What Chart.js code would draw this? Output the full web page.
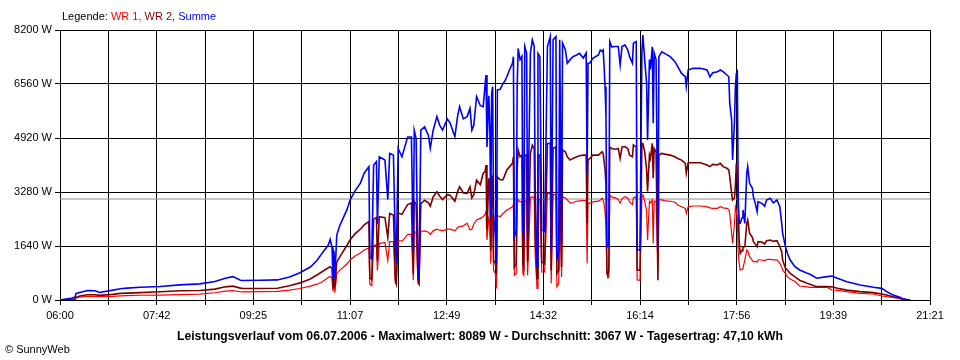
<!DOCTYPE html>
<html>
<head>
<meta charset="utf-8">
<script src="https://cdn.jsdelivr.net/npm/chart.js@4.4.1/dist/chart.umd.min.js"></script>
<style>
  html, body { margin: 0; padding: 0; background: #fff; }
  #wrap { position: relative; width: 960px; height: 360px; overflow: hidden; font-family: "Liberation Sans", Arial, sans-serif; }
  #c { position: absolute; left: 0; top: 0; }
  .txt { position: absolute; font-size: 11px; white-space: nowrap; line-height: 12px; }
  #legend { left: 62px; top: 10px; color: #000; }
  #title { left: 0; width: 960px; text-align: center; top: 330px; font-weight: bold; font-size: 12.2px; color: #000; }
  #copy { left: 5px; top: 343px; color: #000; }
</style>
</head>
<body>
<div id="wrap">
  <canvas id="c" width="960" height="360"></canvas>
  <div id="legend" class="txt">Legende: <span style="color:#ff0000">WR 1,</span> <span style="color:#800000">WR 2,</span> <span style="color:#0000ff">Summe</span></div>
  <div id="title" class="txt">Leistungsverlauf vom 06.07.2006 - Maximalwert: 8089 W - Durchschnitt: 3067 W - Tagesertrag: 47,10 kWh</div>
  <div id="copy" class="txt">© SunnyWeb</div>
</div>
<script>
// ---- data ----
const times = ["06:00","06:06","06:13","06:16","06:17","06:21","06:29","06:37","06:42","06:56","07:04","07:11","07:25","07:46","08:07","08:28","08:44","08:55","09:03","09:11","09:14","09:32","09:50","10:03","10:14","10:25","10:32","10:37","10:44","10:46","10:48","10:49","10:50","10:51","10:53","10:56","11:04","11:07","11:12","11:18","11:22","11:27","11:28","11:30","11:32","11:35","11:36","11:38","11:44","11:47","11:49","11:53","11:55","11:56","11:58","12:02","12:05","12:08","12:12","12:14","12:15","12:17","12:19","12:20","12:22","12:26","12:30","12:32","12:35","12:39","12:42","12:45","12:50","12:53","12:58","13:01","13:03","13:07","13:11","13:14","13:16","13:18","13:21","13:25","13:28","13:30","13:31","13:32","13:34","13:35","13:36","13:37","13:38","13:39","13:41","13:42","13:43","13:46","13:49","13:51","13:53","13:56","13:59","14:00","14:01","14:03","14:04","14:05","14:07","14:09","14:10","14:11","14:12","14:14","14:15","14:18","14:20","14:22","14:23","14:25","14:26","14:28","14:30","14:33","14:36","14:39","14:40","14:42","14:45","14:46","14:48","14:49","14:51","14:52","14:55","14:57","15:00","15:03","15:07","15:10","15:14","15:17","15:18","15:19","15:21","15:24","15:30","15:32","15:34","15:35","15:36","15:37","15:38","15:39","15:40","15:41","15:42","15:44","15:48","15:51","15:53","15:55","15:58","16:01","16:03","16:06","16:07","16:10","16:11","16:14","16:16","16:17","16:19","16:21","16:22","16:24","16:25","16:27","16:28","16:29","16:31","16:33","16:34","16:37","16:40","16:46","16:51","16:54","16:58","17:02","17:03","17:05","17:10","17:18","17:25","17:28","17:31","17:36","17:39","17:42","17:46","17:48","17:49","17:51","17:52","17:54","17:55","17:56","17:57","17:58","17:59","18:00","18:02","18:03","18:05","18:07","18:08","18:10","18:13","18:14","18:16","18:18","18:19","18:23","18:26","18:28","18:32","18:35","18:39","18:42","18:44","18:45","18:48","18:50","18:53","18:58","19:03","19:11","19:14","19:21","19:32","19:37","19:43","19:53","20:07","20:21","20:30","20:35","20:42","20:49","20:52","20:58","21:00"];

const summe = [0,30,60,90,200,230,290,280,230,300,340,360,385,410,460,490,560,660,710,600,590,600,610,700,830,1000,1200,1400,1670,1840,1600,620,1500,700,1970,2250,2760,3030,3300,3550,3850,4050,1300,1250,4100,4200,2300,4350,4250,3050,4450,4400,1700,1100,4600,4350,4650,4950,4950,1500,5150,4900,800,700,5160,5260,5000,4610,5150,5570,5300,5160,5500,5370,4960,5600,5870,5500,5570,5820,5160,5300,6180,5900,5870,6530,6830,4650,6200,5300,2530,6280,6480,2600,1900,1100,6380,6400,6580,6650,6780,7000,7190,7390,1920,2100,6500,7640,7300,7400,2120,2000,7700,7500,2020,7500,7900,7700,3500,1000,7490,7390,2130,2080,7690,8000,1500,7900,8000,1200,1500,7900,1720,7800,7600,7190,7300,7390,7440,7490,7350,7500,3850,7190,7200,7340,7440,7590,7550,7590,7090,6480,5570,1620,1620,1700,7850,7690,7700,7700,7140,7700,7750,7600,7390,7190,7800,7850,1520,1520,7500,8050,7290,6580,4860,7300,7000,7690,5370,7500,7300,1620,7390,7540,7490,7390,7240,7090,6880,6780,6480,6985,7036,7036,6985,6780,6900,6935,6985,6935,6833,6780,5970,5470,4250,5400,6480,6880,6935,3037,2330,2330,2500,2733,2330,3847,4049,3543,3391,3138,2936,2682,2986,2936,2850,3037,3088,2950,3037,2834,2328,2025,1619,1417,1215,1012,911,810,780,660,709,729,658,557,455,385,354,253,152,81,40,10,0];

const wr2 = [0,0,20,30,80,120,160,160,140,170,200,210,225,250,280,290,330,400,420,360,350,350,355,430,520,640,760,850,980,1010,950,340,800,400,1150,1300,1670,1820,2000,2150,2280,2380,680,620,2450,2500,1200,2530,2500,1900,2630,2580,600,500,2640,2600,2750,2900,2950,800,3000,2900,600,520,2930,3030,2950,2850,3130,3290,3150,3050,3200,3180,3000,3300,3440,3250,3240,3440,3100,3200,3640,3500,3850,3900,4100,2130,3700,3500,1500,3700,3750,1200,1110,750,3740,3650,3650,3800,3950,4050,4150,4350,1000,1100,4000,4560,4350,4400,1100,1000,4400,4400,1150,4450,4700,4600,2000,650,4400,4400,1150,1100,4750,4760,900,4600,4650,800,900,4550,1000,4550,4500,4350,4250,4300,4350,4380,4400,4400,2330,4250,4300,4400,4400,4450,4500,4450,4200,3950,3500,820,760,900,4650,4600,4580,4600,4300,4650,4660,4600,4400,4350,4710,4650,910,900,4760,4750,4500,3950,3300,4400,4300,4760,3700,4600,4500,600,4400,4450,4430,4400,4350,4300,4250,4150,3850,4170,4170,4170,4100,4050,4120,4100,4150,4050,4000,3950,3745,3240,3037,3100,3500,4151,3800,2733,1800,1417,1500,1600,1619,2328,2430,2025,1900,1771,1700,1619,1771,1760,1700,1800,1822,1780,1800,1619,1467,1215,961,911,810,700,600,506,480,405,405,400,354,300,253,223,182,150,101,60,30,0,0];

const wr1 = [0,0,10,30,60,90,110,110,100,110,125,130,145,150,165,180,220,270,285,250,245,255,260,300,350,420,480,540,680,720,650,260,600,220,800,900,1100,1215,1330,1430,1520,1580,480,440,1650,1680,900,1720,1740,1200,1770,1770,520,480,1800,1790,1880,1990,2000,600,2080,2050,500,470,2080,2100,2060,1990,2100,2150,2120,2100,2150,2150,2100,2200,2230,2250,2330,2130,2150,2300,2430,2480,2530,2600,2680,1820,2500,2400,1100,2500,2550,900,800,350,2560,2530,2630,2680,2730,2780,2830,2900,750,800,2900,3040,2980,3000,800,750,3000,3000,750,3100,3140,3100,1400,350,3050,3050,850,850,3240,3240,500,3200,3200,400,500,3150,700,3140,3100,3040,2940,2960,3000,3010,3020,3020,1110,2940,2940,2980,3000,3040,3090,3040,2900,2700,2200,820,670,700,3190,3130,3100,3050,2940,3080,3140,3100,2980,2900,3100,3140,610,600,3190,3190,3000,2700,1820,3000,2950,3040,1720,3000,3000,1000,3040,3040,3020,3000,2970,2885,2834,2784,2630,2830,2855,2855,2830,2800,2784,2784,2834,2800,2784,2750,2632,2025,1721,2300,2834,2700,2500,1417,1100,911,940,961,1215,1518,1500,1316,1200,1164,1164,1150,1215,1215,1190,1230,1235,1220,1220,1113,1000,911,800,709,640,560,425,400,385,385,385,304,290,253,203,182,121,101,81,40,20,0,0];

const average = 3067;
const yTickValues = [0, 1640, 3280, 4920, 6560, 8200];
const xTickLabels = ["06:00","07:42","09:25","11:07","12:49","14:32","16:14","17:56","19:39","21:21"];
const seriesNames = ["WR 1", "WR 2", "Summe"];

// ---- helpers ----
function toMin(s) { const p = s.split(":"); return (+p[0]) * 60 + (+p[1]); }
const tMin = toMin(xTickLabels[0]);
const tMax = toMin(xTickLabels[xTickLabels.length - 1]);
function pts(arr) { return times.map((t, i) => ({ x: toMin(t), y: arr[i] })); }

const FONT = { family: '"Liberation Sans", Arial, sans-serif', size: 11 };

new Chart(document.getElementById('c'), {
  type: 'line',
  data: {
    datasets: [
      { label: seriesNames[2], data: pts(summe), borderColor: '#0000ff', borderWidth: 1.6, pointRadius: 0, tension: 0, order: 0 },
      { label: seriesNames[1], data: pts(wr2), borderColor: '#800000', borderWidth: 1.6, pointRadius: 0, tension: 0, order: 1 },
      { label: seriesNames[0], data: pts(wr1), borderColor: '#ff0000', borderWidth: 1.2, pointRadius: 0, tension: 0, order: 2 },
      { label: 'Durchschnitt', data: [{ x: tMin, y: average }, { x: tMax, y: average }], borderColor: '#8c8c8c', borderWidth: 1, pointRadius: 0, order: 5 }
    ]
  },
  options: {
    responsive: false,
    animation: false,
    events: [],
    layout: { padding: { left: 0, right: 30, top: 30, bottom: 0 } },
    plugins: { legend: { display: false }, title: { display: false }, tooltip: { enabled: false } },
    scales: {
      x: {
        type: 'linear', min: tMin, max: tMax,
        afterBuildTicks: (s) => {
          const n = (xTickLabels.length - 1) * 2;
          const arr = [];
          for (let i = 0; i <= n; i++) arr.push({ value: tMin + (tMax - tMin) * i / n });
          s.ticks = arr;
        },
        afterFit: (s) => { s.height = 60; },
        ticks: {
          autoSkip: false, maxRotation: 0, minRotation: 0, padding: 4, color: '#000', font: FONT,
          callback: (v, i) => (i % 2 === 0 ? xTickLabels[i / 2] : '')
        },
        grid: { color: '#000', lineWidth: 1, tickLength: 5, drawTicks: true },
        border: { display: true, color: '#000', width: 1 }
      },
      y: {
        type: 'linear', min: 0, max: 8200,
        afterBuildTicks: (s) => { s.ticks = yTickValues.map(v => ({ value: v })); },
        afterFit: (s) => { s.width = 60; },
        ticks: { color: '#000', font: FONT, padding: 3, callback: (v) => v + ' W' },
        grid: { color: '#000', lineWidth: 1, tickLength: 5, drawTicks: true },
        border: { display: true, color: '#000', width: 1 }
      }
    }
  }
});
</script>
</body>
</html>
